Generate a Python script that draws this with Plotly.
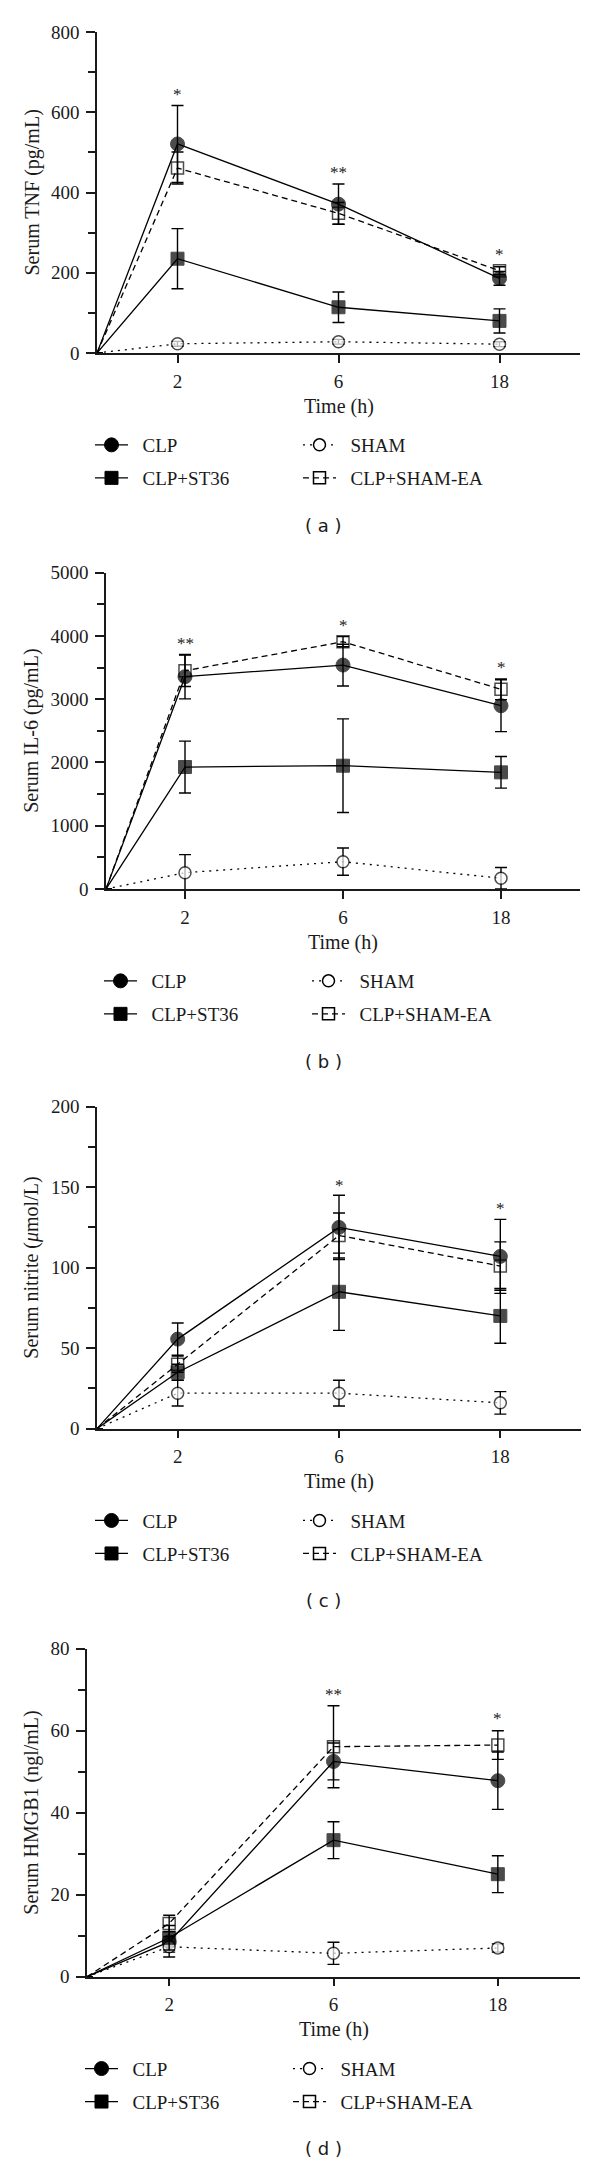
import plotly.graph_objects as go

# ---------------- data ----------------
times = [0, 2, 6, 18]
tick_times = [2, 6, 18]
series_names = ["CLP", "SHAM", "CLP+ST36", "CLP+SHAM-EA"]

# (a) Serum TNF (pg/mL)
tnf_clp = [0, 521, 371, 186]
tnf_clp_err = [0, 96, 50, 17]
tnf_sham = [0, 23, 28, 22]
tnf_sham_err = [0, 6, 6, 6]
tnf_st36 = [0, 235, 114, 80]
tnf_st36_err = [0, 75, 38, 30]
tnf_ea = [0, 461, 348, 205]
tnf_ea_err = [0, 40, 27, 10]
tnf_sig_times = [2, 6, 18]
tnf_sig_text = ["*", "**", "*"]
tnf_sig_y = [645, 449, 246]

# (b) Serum IL-6 (pg/mL)
il6_clp = [0, 3356, 3540, 2897]
il6_clp_err = [0, 350, 330, 410]
il6_sham = [0, 258, 432, 169]
il6_sham_err = [0, 285, 215, 170]
il6_st36 = [0, 1928, 1949, 1844]
il6_st36_err = [0, 410, 740, 250]
il6_ea = [0, 3450, 3909, 3156]
il6_ea_err = [0, 250, 80, 165]
il6_sig_times = [2, 6, 18]
il6_sig_text = ["**", "*", "*"]
il6_sig_y = [3883, 4173, 3498]

# (c) Serum nitrite (umol/L)
no_clp = [0, 55.6, 125, 107]
no_clp_err = [0, 10, 20, 23]
no_sham = [0, 22, 22, 16]
no_sham_err = [0, 8, 8, 7]
no_st36 = [0, 35, 85, 70]
no_st36_err = [0, 5, 24, 17]
no_ea = [0, 40, 120, 101]
no_ea_err = [0, 5, 14, 15]
no_sig_times = [6, 18]
no_sig_text = ["*", "*"]
no_sig_y = [151, 136.5]

# (d) Serum HMGB1 (ng/mL)
hm_clp = [0, 8.5, 52.5, 47.8]
hm_clp_err = [0, 2.5, 4.5, 7]
hm_sham = [0, 7.3, 5.7, 7]
hm_sham_err = [0, 2.5, 2.7, 1]
hm_st36 = [0, 9.5, 33.3, 25]
hm_st36_err = [0, 3, 4.5, 4.5]
hm_ea = [0, 13, 56.1, 56.5]
hm_ea_err = [0, 2, 10, 3.5]
hm_sig_times = [6, 18]
hm_sig_text = ["**", "*"]
hm_sig_y = [68.8, 62.9]

# ---------------- layout config ----------------
W, H = 600, 2169
# axis placement: time 0 sits half a step left of the first sampled time
time_pos = {0: -0.5, 2: 0, 6: 1, 18: 2}
xs = [time_pos[t] for t in times]

SERIF = "Liberation Serif"
SANS = "DejaVu Sans"
INK = "#1a1a1a"
TICK_FS = 19
TITLE_FS = 20
LEG_FS = 19

panels = [
    dict(label="( a )", ytitle="Serum TNF (pg/mL)", ymax=800, dtick=200, minor=100,
         left=97, right=580, top=32, bottom=353,
         data=[(tnf_clp, tnf_clp_err), (tnf_sham, tnf_sham_err), (tnf_st36, tnf_st36_err), (tnf_ea, tnf_ea_err)],
         sig=(tnf_sig_times, tnf_sig_text, tnf_sig_y)),
    dict(label="( b )", ytitle="Serum IL-6 (pg/mL)", ymax=5000, dtick=1000, minor=500,
         left=106, right=580, top=572.7, bottom=889,
         data=[(il6_clp, il6_clp_err), (il6_sham, il6_sham_err), (il6_st36, il6_st36_err), (il6_ea, il6_ea_err)],
         sig=(il6_sig_times, il6_sig_text, il6_sig_y)),
    dict(label="( c )", ytitle="Serum nitrite (<i>μ</i>mol/L)", ymax=200, dtick=50, minor=25,
         left=97, right=581, top=1106.7, bottom=1428.6,
         data=[(no_clp, no_clp_err), (no_sham, no_sham_err), (no_st36, no_st36_err), (no_ea, no_ea_err)],
         sig=(no_sig_times, no_sig_text, no_sig_y)),
    dict(label="( d )", ytitle="Serum HMGB1 (ngl/mL)", ymax=80, dtick=20, minor=10,
         left=87, right=580, top=1648.7, bottom=1976.7,
         data=[(hm_clp, hm_clp_err), (hm_sham, hm_sham_err), (hm_st36, hm_st36_err), (hm_ea, hm_ea_err)],
         sig=(hm_sig_times, hm_sig_text, hm_sig_y)),
]

styles = [
    dict(symbol="circle", size=14, color="black", mline=dict(color="black", width=1), dash="solid"),
    dict(symbol="circle", size=12, color="white", mline=dict(color="black", width=1.5), dash="2px,5px"),
    dict(symbol="square", size=13, color="black", mline=dict(color="black", width=1), dash="solid"),
    dict(symbol="square-open", size=12, color="black", mline=dict(color="black", width=1.5), dash="6px,4px"),
]
# legend grid: (column, row)
legend_cells = [(0, 0), (1, 0), (0, 1), (1, 1)]
TS = "\u00a0\u00a0"  # small gap between legend symbol and text


def px_x(p):
    return p / W


def px_y(p):
    return 1 - p / H


fig = go.Figure()
layout = dict(width=W, height=H, margin=dict(l=0, r=0, t=0, b=0, autoexpand=False),
              plot_bgcolor="white", paper_bgcolor="white", showlegend=True)
annotations = []
leg_idx = 0

for i, p in enumerate(panels):
    n = "" if i == 0 else str(i + 1)
    xa, ya = "x" + n, "y" + n
    layout["xaxis" + n] = dict(
        domain=[px_x(p["left"]), px_x(p["right"])], anchor=ya, automargin=False,
        range=[-0.5, 2.5], tickvals=[time_pos[t] for t in tick_times],
        ticktext=[str(t) for t in tick_times], ticks="outside", ticklen=8, tickwidth=1.5,
        tickcolor=INK, showline=True, linecolor=INK, linewidth=1.5, showgrid=False,
        zeroline=False, tickfont=dict(family=SERIF, size=TICK_FS, color=INK), ticklabelstandoff=2,
        fixedrange=True)
    layout["yaxis" + n] = dict(
        domain=[px_y(p["bottom"]), px_y(p["top"])], anchor=xa, automargin=False,
        range=[0, p["ymax"]], dtick=p["dtick"], tick0=0, ticks="outside", ticklen=9,
        tickwidth=1.5, tickcolor=INK, showline=True, linecolor=INK, linewidth=1.5,
        showgrid=False, zeroline=False, tickfont=dict(family=SERIF, size=TICK_FS, color=INK),
        ticklabelstandoff=3,
        minor=dict(dtick=p["minor"], ticks="outside", ticklen=7, tickwidth=1.5, tickcolor=INK, showgrid=False),
        fixedrange=True)

    for s, ((vals, errs), st) in enumerate(zip(p["data"], styles)):
        sizes = [0 if t == 0 else st["size"] for t in times]
        fig.add_trace(go.Scatter(
            x=xs, y=vals, xaxis=xa, yaxis=ya, mode="lines+markers", showlegend=False,
            name=series_names[s], cliponaxis=False,
            line=dict(color="black", width=1.3, dash=st["dash"]),
            marker=dict(symbol=st["symbol"], size=sizes, color=st["color"], line=st["mline"]),
            error_y=dict(type="data", array=errs, visible=True, color="black", thickness=1.4, width=6)))
        # legend entry
        leg_idx += 1
        lname = "legend" if leg_idx == 1 else f"legend{leg_idx}"
        col, row = legend_cells[s]
        fig.add_trace(go.Scatter(
            x=[None], y=[None], xaxis=xa, yaxis=ya, mode="lines+markers", name=TS + series_names[s],
            legend=lname, line=dict(color="black", width=1.3, dash=st["dash"]),
            marker=dict(symbol=st["symbol"], size=st["size"], color=st["color"], line=st["mline"])))
        lx = p["left"] + col * 208 - 7
        ly = p["bottom"] + (92 if row == 0 else 125)
        layout[lname] = dict(x=px_x(lx), y=px_y(ly), xanchor="left", yanchor="middle",
                             bgcolor="rgba(0,0,0,0)", borderwidth=0, itemwidth=33,
                             font=dict(family=SERIF, size=LEG_FS, color=INK), itemclick=False)

    # significance marks
    st_t, st_txt, st_y = p["sig"]
    for t, txt, yv in zip(st_t, st_txt, st_y):
        annotations.append(dict(x=time_pos[t], y=yv, xref=xa, yref=ya, text=txt, showarrow=False,
                                xanchor="center", yanchor="middle",
                                font=dict(family=SERIF, size=17, color=INK)))
    # axis titles
    annotations.append(dict(x=px_x(32), y=px_y((p["top"] + p["bottom"]) / 2), xref="paper", yref="paper",
                            text=p["ytitle"], textangle=-90, showarrow=False,
                            xanchor="center", yanchor="middle",
                            font=dict(family=SERIF, size=TITLE_FS, color=INK)))
    annotations.append(dict(x=px_x((p["left"] + p["right"]) / 2), y=px_y(p["bottom"] + 53),
                            xref="paper", yref="paper", text="Time (h)", showarrow=False,
                            xanchor="center", yanchor="middle",
                            font=dict(family=SERIF, size=TITLE_FS, color=INK)))
    annotations.append(dict(x=px_x(323), y=px_y(p["bottom"] + 172), xref="paper", yref="paper",
                            text=p["label"], showarrow=False, xanchor="center", yanchor="middle",
                            font=dict(family=SANS, size=18, color=INK)))

layout["annotations"] = annotations
fig.update_layout(**layout)
fig.write_html("out.html", config={"displayModeBar": False},
               post_script="document.body.style.margin='0';")
